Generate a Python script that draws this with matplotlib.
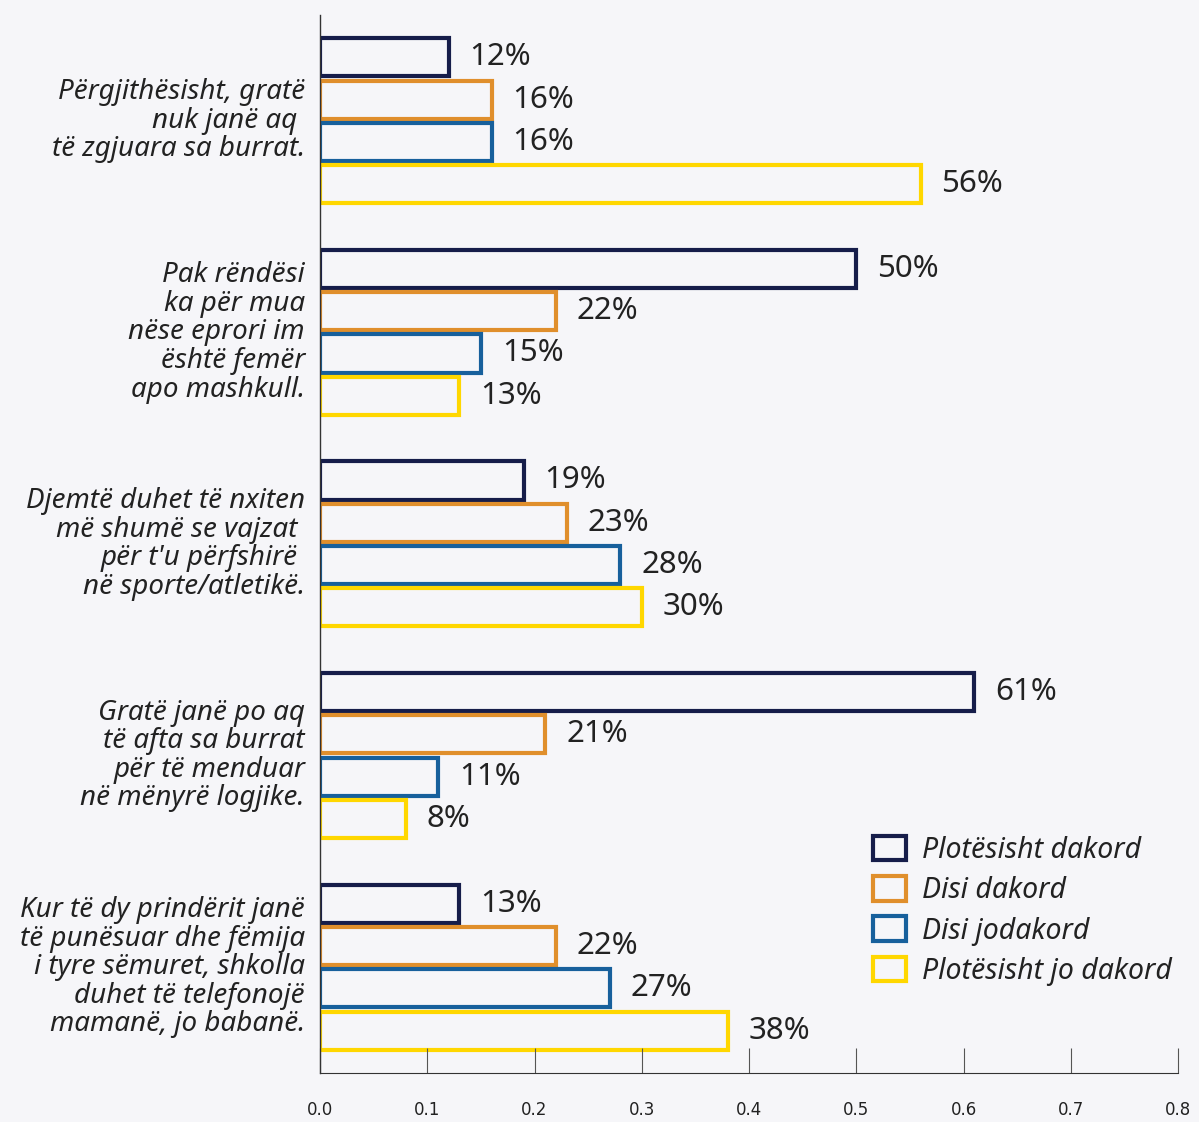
import numpy as np
import matplotlib
matplotlib.use('Agg')
import matplotlib.pyplot as plt

# te dhenat
statements = [
    'Përgjithësisht, gratë\nnuk janë aq \ntë zgjuara sa burrat.',
    'Pak rëndësi\nka për mua\nnëse eprori im\nështë femër\napo mashkull.',
    'Djemtë duhet të nxiten\nmë shumë se vajzat \npër t\'u përfshirë \nnë sporte/atletikë.',
    'Gratë janë po aq\ntë afta sa burrat\npër të menduar\nnë mënyrë logjike.',
    'Kur të dy prindërit janë\ntë punësuar dhe fëmija\ni tyre sëmuret, shkolla\nduhet të telefonojë\nmamanë, jo babanë.',
]
series_names = ['Plotësisht dakord', 'Disi dakord', 'Disi jodakord', 'Plotësisht jo dakord']
plotesisht_dakord = [0.12, 0.50, 0.19, 0.61, 0.13]
disi_dakord = [0.16, 0.22, 0.23, 0.21, 0.22]
disi_jodakord = [0.16, 0.15, 0.28, 0.11, 0.27]
plotesisht_jo_dakord = [0.56, 0.13, 0.30, 0.08, 0.38]
xticks = [0.0, 0.1, 0.2, 0.3, 0.4, 0.5, 0.6, 0.7, 0.8]

colors = ['#161d4a', '#e08f2c', '#17609c', '#ffd700']
bg = '#f6f6f9'
fam = ['Noto Sans', 'DejaVu Sans']

fig = plt.figure(figsize=(11.99, 11.22), dpi=100, facecolor=bg)
ax = fig.add_axes([0.2669, 0.0437, 0.7156, 0.943])
ax.set_facecolor(bg)

y = np.arange(len(statements))
offsets = [-0.3, -0.1, 0.1, 0.3]
allvals = [plotesisht_dakord, disi_dakord, disi_jodakord, plotesisht_jo_dakord]
for k in range(4):
    bars = ax.barh(y + offsets[k], allvals[k], height=0.18, facecolor='none',
                   edgecolor=colors[k], linewidth=3, label=series_names[k])
    for yy, v in zip(y + offsets[k], allvals[k]):
        ax.annotate('%d%%' % round(v * 100), (v, yy), xytext=(15, 0),
                    textcoords='offset points', va='center', ha='left',
                    fontsize=22.5, color='#222222', family=fam)

ax.set_xlim(0, 0.8)
ax.set_ylim(4.5, -0.5)
ax.set_xticks(xticks)
ax.set_xticklabels(['%.1f' % t for t in xticks], fontsize=12, color='#222222')
ax.tick_params(axis='x', direction='in', length=18, width=0.8, color='#555555', pad=20)
ax.set_yticks([])
for s in ['top', 'right']:
    ax.spines[s].set_visible(False)
ax.spines['left'].set_color('#333333')
ax.spines['bottom'].set_color('#333333')
ax.spines['left'].set_linewidth(1)

for yy, txt in zip(y, statements):
    ax.text(-0.014, yy, txt, ha='right', va='center', fontsize=20, style='italic',
            color='#222222', family=fam, linespacing=1.03, multialignment='right')

leg = ax.legend(loc='lower right', bbox_to_anchor=(1.0225, 0.058), frameon=False,
                prop={'family': fam, 'style': 'italic', 'size': 20.5},
                handlelength=1.15, handleheight=0.95, handletextpad=0.55, labelspacing=0.4)
for t in leg.get_texts():
    t.set_color('#222222')

fig.savefig('out.png', dpi=100, facecolor=bg)
